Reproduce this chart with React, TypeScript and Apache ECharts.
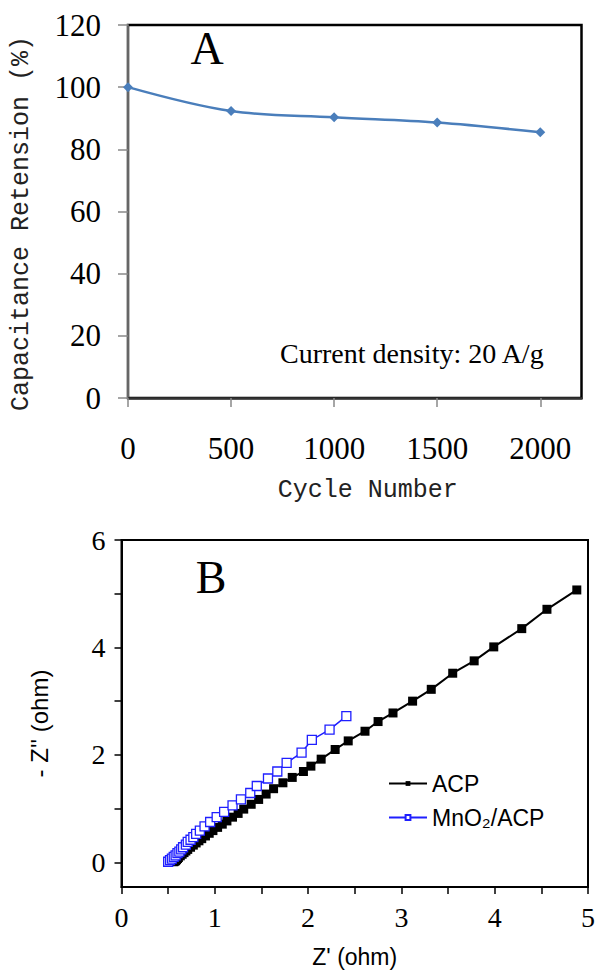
import React, { useEffect, useRef } from 'react';
import * as echarts from 'echarts';

// Panel A: cycling stability
const cycleNumbers = [0, 500, 1000, 1500, 2000];
const retention = [100, 92.3, 90.3, 88.6, 85.5];
const cycleTicks = [0, 500, 1000, 1500, 2000];

// Panel B: Nyquist plot
const acpZre = [0.56, 0.57, 0.58, 0.59, 0.6, 0.61, 0.63, 0.65, 0.67, 0.69, 0.71, 0.74, 0.77, 0.8, 0.83, 0.86, 0.9, 0.94, 0.98, 1.03, 1.08, 1.13, 1.19, 1.25, 1.31, 1.39, 1.47, 1.55, 1.63, 1.73, 1.83, 1.95, 2.03, 2.14, 2.29, 2.43, 2.61, 2.75, 2.91, 3.12, 3.32, 3.55, 3.78, 3.99, 4.29, 4.56, 4.88];
const acpZim = [0.01, 0.02, 0.03, 0.05, 0.07, 0.09, 0.12, 0.15, 0.18, 0.21, 0.24, 0.28, 0.32, 0.36, 0.4, 0.44, 0.49, 0.54, 0.59, 0.65, 0.71, 0.77, 0.84, 0.91, 0.99, 1.08, 1.17, 1.27, 1.37, 1.48, 1.58, 1.69, 1.79, 1.92, 2.1, 2.26, 2.44, 2.62, 2.78, 3.0, 3.22, 3.52, 3.75, 4.01, 4.35, 4.71, 5.07];
const mnoZre = [0.5, 0.52, 0.54, 0.56, 0.58, 0.6, 0.62, 0.64, 0.66, 0.69, 0.71, 0.74, 0.77, 0.8, 0.84, 0.89, 0.95, 1.02, 1.1, 1.19, 1.28, 1.38, 1.45, 1.57, 1.67, 1.77, 1.93, 2.04, 2.23, 2.41];
const mnoZim = [0.01, 0.04, 0.07, 0.1, 0.13, 0.17, 0.2, 0.24, 0.28, 0.33, 0.38, 0.42, 0.47, 0.53, 0.59, 0.67, 0.75, 0.84, 0.94, 1.06, 1.17, 1.29, 1.42, 1.56, 1.69, 1.85, 2.04, 2.28, 2.47, 2.72];
const zreTicks = [0, 0.5, 1, 1.5, 2, 2.5, 3, 3.5, 4, 4.5, 5];
const zreLabels = [0, 1, 2, 3, 4, 5];
const zimTicks = [0, 1, 2, 3, 4, 5, 6];
const zimLabels = [0, 2, 4, 6];

const serif = 'Liberation Serif, Times New Roman, serif';
const mono = 'Liberation Mono, DejaVu Sans Mono, monospace';
const sans = 'Liberation Sans, Arial, DejaVu Sans, sans-serif';
const plain = (v: number) => String(v);

export default function App() {
  const ref = useRef<HTMLDivElement>(null);
  useEffect(() => {
    if (!ref.current) return;
    const chart = echarts.init(ref.current, undefined, { renderer: 'svg' });
    const option: any = {
      animation: false,
      backgroundColor: '#fff',
      grid: [
        { left: 128, top: 25, width: 453.5, height: 373, show: true, borderColor: '#000', borderWidth: 2.5 },
        { left: 121.5, top: 540, width: 468.5, height: 347, show: true, borderColor: '#000', borderWidth: 2 },
      ],
      xAxis: [
        {
          type: 'value', gridIndex: 0, min: 0, max: 2200,
          axisLine: { show: true, onZero: false, lineStyle: { color: '#333', width: 2.5 } },
          axisTick: { show: true, customValues: cycleTicks, length: 9, lineStyle: { color: '#888', width: 1.5 } },
          axisLabel: { customValues: cycleTicks, formatter: plain, margin: 35, fontFamily: serif, fontSize: 31, color: '#000' },
          splitLine: { show: false },
          name: 'Cycle Number', nameLocation: 'middle', nameGap: 80,
          nameTextStyle: { fontFamily: mono, fontSize: 25, color: '#222', padding: [0, 0, 0, 26] },
        },
        {
          type: 'value', gridIndex: 1, min: 0, max: 5,
          axisLine: { show: true, onZero: false, lineStyle: { color: '#000', width: 2 } },
          axisTick: { show: true, customValues: zreTicks, length: 7, lineStyle: { color: '#000', width: 1.5 } },
          axisLabel: { customValues: zreLabels, formatter: plain, margin: 16, fontFamily: serif, fontSize: 28, color: '#000' },
          splitLine: { show: false },
          name: "Z' (ohm)", nameLocation: 'middle', nameGap: 58,
          nameTextStyle: { fontFamily: sans, fontSize: 23, color: '#000' },
        },
      ],
      yAxis: [
        {
          type: 'value', gridIndex: 0, min: 0, max: 120, interval: 20,
          axisLine: { show: true, onZero: false, lineStyle: { color: '#666', width: 2 } },
          axisTick: { show: true, length: 10, lineStyle: { color: '#888', width: 1.5 } },
          axisLabel: { margin: 27, fontFamily: serif, fontSize: 31, color: '#000' },
          splitLine: { show: false },
          name: 'Capacitance Retension (%)', nameLocation: 'middle', nameGap: 94,
          nameTextStyle: { fontFamily: mono, fontSize: 25, color: '#222', padding: [0, 24, 0, 0] },
        },
        {
          type: 'value', gridIndex: 1, min: -0.46, max: 6,
          axisLine: { show: true, onZero: false, lineStyle: { color: '#000', width: 2 } },
          axisTick: { show: true, customValues: zimTicks, length: 7, lineStyle: { color: '#000', width: 1.5 } },
          axisLabel: { customValues: zimLabels, formatter: plain, margin: 16, fontFamily: serif, fontSize: 28, color: '#000' },
          splitLine: { show: false },
          name: "- Z'' (ohm)", nameLocation: 'middle', nameGap: 70,
          nameTextStyle: { fontFamily: sans, fontSize: 24, color: '#000', padding: [0, 20, 0, 0] },
        },
      ],
      legend: {
        data: ['ACP', 'MnO₂/ACP'],
        orient: 'vertical', left: 388, top: 772, padding: 0,
        itemWidth: 38, itemHeight: 6, itemGap: 11,
        textStyle: { fontFamily: sans, fontSize: 23, color: '#000' },
      },
      series: [
        {
          name: 'Retention', type: 'line', xAxisIndex: 0, yAxisIndex: 0,
          data: cycleNumbers.map((c, i) => [c, retention[i]]),
          smooth: 0.35, symbol: 'diamond', symbolSize: 10,
          lineStyle: { color: '#4a7ebb', width: 2.5 },
          itemStyle: { color: '#4a7ebb' },
        },
        {
          name: 'ACP', type: 'line', xAxisIndex: 1, yAxisIndex: 1,
          data: acpZre.map((x, i) => [x, acpZim[i]]),
          symbol: 'rect', symbolSize: 9,
          lineStyle: { color: '#000', width: 2 },
          itemStyle: { color: '#000' },
        },
        {
          name: 'MnO₂/ACP', type: 'line', xAxisIndex: 1, yAxisIndex: 1,
          data: mnoZre.map((x, i) => [x, mnoZim[i]]),
          symbol: 'rect', symbolSize: 9,
          lineStyle: { color: '#1f1fff', width: 1.5 },
          itemStyle: { color: '#fff', borderColor: '#1f1fff', borderWidth: 1.3 },
        },
      ],
      graphic: [
        { type: 'text', x: 207, y: 48, style: { text: 'A', fontFamily: serif, fontSize: 46, fill: '#000', align: 'center', verticalAlign: 'middle' } },
        { type: 'text', x: 211, y: 577, style: { text: 'B', fontFamily: serif, fontSize: 46, fill: '#000', align: 'center', verticalAlign: 'middle' } },
        { type: 'text', x: 280, y: 353, style: { text: 'Current density: 20 A/g', fontFamily: serif, fontSize: 28, fill: '#000', align: 'left', verticalAlign: 'middle' } },
      ],
    };
    chart.setOption(option);
    return () => chart.dispose();
  }, []);
  return <div ref={ref} style={{ position: 'fixed', left: 0, top: 0, width: 598, height: 970 }} />;
}
